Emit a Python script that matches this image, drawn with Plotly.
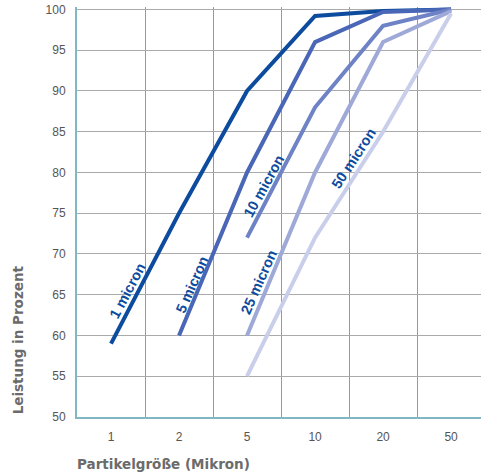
import plotly.graph_objects as go

categories = ["1", "2", "5", "10", "20", "50"]
series_names = ["1 micron", "5 micron", "10 micron", "25 micron", "50 micron"]
s1 = [59, 75, 90, 99.2, 99.8, 100]
s5 = [None, 60, 80, 96, 99.7, 100]
s10 = [None, None, 72, 88, 98, 100]
s25 = [None, None, 60, 80, 96, 99.8]
s50 = [None, None, 55, 72, 85, 99.5]
series = [s1, s5, s10, s25, s50]
colors = ["#0d4b9e", "#4a66b6", "#6e82c6", "#9ea9d8", "#c9cfea"]

# label placement (data coords on category index) and angles
label_pos = [(0.245, 65.4, -62), (1.19, 66.2, -66), (2.245, 78.4, -61), (2.17, 66.6, -66), (3.57, 81.8, -57)]

fig = go.Figure()
for name, vals, col in zip(series_names, series, colors):
    xs = [i for i, v in enumerate(vals) if v is not None]
    ys = [v for v in vals if v is not None]
    fig.add_trace(go.Scatter(x=xs, y=ys, mode="lines", name=name,
                             line=dict(color=col, width=4), showlegend=False))

annotations = []
for name, (lx, ly, ang) in zip(series_names, label_pos):
    annotations.append(dict(x=lx, y=ly, xref="x", yref="y", text=name, showarrow=False,
                            textangle=ang,
                            font=dict(family="Liberation Sans", size=14.5, color="#0d4b9e", weight="bold")))

title_font = dict(family="DejaVu Sans", size=13.5, color="#6b6b6b", weight="bold")
annotations.append(dict(x=-0.146, y=0.187, xref="paper", yref="paper", text="Leistung in Prozent",
                        showarrow=False, textangle=-90, xanchor="center", yanchor="middle",
                        font=title_font))
annotations.append(dict(x=0.213, y=-0.1136, xref="paper", yref="paper", text="Partikelgröße (Mikron)",
                        showarrow=False, xanchor="center", yanchor="middle",
                        font=title_font))

fig.update_layout(
    width=481, height=475,
    margin=dict(l=77, r=0, t=7, b=58),
    plot_bgcolor="white", paper_bgcolor="white",
    annotations=annotations,
)

fig.update_xaxes(
    range=[-0.5, 5.44],
    tickvals=list(range(len(categories))), ticktext=categories,
    showgrid=False,
    minor=dict(tickvals=[0.5, 1.5, 2.5, 3.5, 4.5], showgrid=True, gridcolor="#999999", gridwidth=1.2, ticklen=0),
    showline=True, linecolor="#7fb8c2", linewidth=2,
    ticks="", ticklabelstandoff=8, automargin=False,
    tickfont=dict(family="Liberation Sans", size=12, color="#555555"),
    zeroline=False,
)
fig.update_yaxes(
    range=[50, 100.3],
    tickvals=[50, 55, 60, 65, 70, 75, 80, 85, 90, 95, 100],
    showgrid=True, gridcolor="#aaaaaa", gridwidth=1.2,
    showline=True, linecolor="#7fb8c2", linewidth=2,
    ticks="", ticklabelstandoff=7, automargin=False,
    tickfont=dict(family="Liberation Sans", size=12, color="#555555"),
    zeroline=False,
)

fig.write_html("out.html", config={"displayModeBar": False},
               post_script="document.body.style.margin='0px';document.body.style.overflow='hidden';")
